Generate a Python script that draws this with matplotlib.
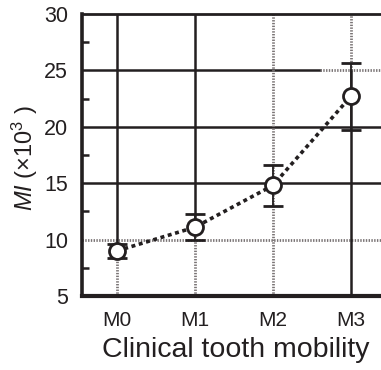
import matplotlib
matplotlib.use('Agg')
import matplotlib.pyplot as plt

# Data
categories = ['M0', 'M1', 'M2', 'M3']
mi_mean = [9.0, 11.1, 14.8, 22.7]
mi_err = [0.65, 1.15, 1.8, 3.0]
y_ticks = [5, 10, 15, 20, 25, 30]

INK = '#231f20'
DOT = '#7a7475'

plt.rcParams['font.family'] = ['Liberation Sans', 'DejaVu Sans']
plt.rcParams['mathtext.fontset'] = 'custom'
plt.rcParams['mathtext.rm'] = 'Liberation Sans'
plt.rcParams['mathtext.it'] = 'Liberation Sans:italic'


def main():
    fig = plt.figure(figsize=(3.81, 3.70), dpi=100)
    ax = fig.add_axes([0.215, 0.2, 0.808, 0.762])

    x = list(range(len(categories)))
    ax.set_xlim(-0.45, 3.5)
    ax.set_ylim(y_ticks[0], y_ticks[-1])

    # grid: mix of solid and dotted segments like the printed original
    solid = dict(color=INK, lw=1.8, zorder=1)
    dotted = dict(color=DOT, lw=2.0, ls=(0, (0.5, 0.5)), zorder=1)
    ax.axhline(10, **dotted)
    ax.axhline(15, **solid)
    ax.axhline(20, **solid)
    split = (2.6 + 0.45) / 3.95
    ax.axhline(25, xmax=split, **solid)
    ax.axhline(25, xmin=split, **dotted)
    span = y_ticks[-1] - y_ticks[0]
    for xi, m in zip(x, mi_mean):
        frac = (m - y_ticks[0]) / span
        if xi in (0, 1):
            ax.axvline(xi, ymin=frac, **solid)
            ax.axvline(xi, ymax=frac, **dotted)
        elif xi == 2:
            ax.axvline(xi, **dotted)
        else:
            top = (25 - y_ticks[0]) / span
            ax.axvline(xi, ymax=top, **solid)
            ax.axvline(xi, ymin=top, **dotted)

    ax.plot(x, mi_mean, ls=(0, (1.1, 1.0)), lw=2.6, color=INK, zorder=3)
    ax.errorbar(x, mi_mean, yerr=mi_err, fmt='o', ms=11.5, mfc='white',
                mec=INK, mew=2.0, ecolor=INK, elinewidth=1.3, capsize=7,
                capthick=2.4, zorder=4)

    ax.set_xticks(x)
    ax.set_xticklabels(categories, fontsize=15)
    ax.set_yticks(y_ticks)
    ax.set_yticks([7.5, 12.5, 17.5, 22.5, 27.5], minor=True)
    ax.tick_params(axis='y', which='major', length=0, pad=10, labelsize=15.5,
                   labelcolor=INK)
    ax.tick_params(axis='y', which='minor', direction='in', length=5,
                   width=1.8, color=INK)
    ax.tick_params(axis='x', length=0, pad=11, labelcolor=INK)

    ax.spines['right'].set_visible(False)
    ax.spines['left'].set_linewidth(2.6)
    ax.spines['bottom'].set_linewidth(3.0)
    ax.spines['top'].set_linewidth(2.0)
    for s in ('left', 'bottom', 'top'):
        ax.spines[s].set_color(INK)

    ax.set_xlabel('Clinical tooth mobility', fontsize=20.5, labelpad=5,
                  color=INK)
    ax.set_ylabel(r'$MI$ (×10$^3$ )', fontsize=17, color=INK, va='center')
    ax.yaxis.set_label_coords(-0.185, 0.49)

    fig.savefig('out.png', dpi=100)


if __name__ == '__main__':
    main()
